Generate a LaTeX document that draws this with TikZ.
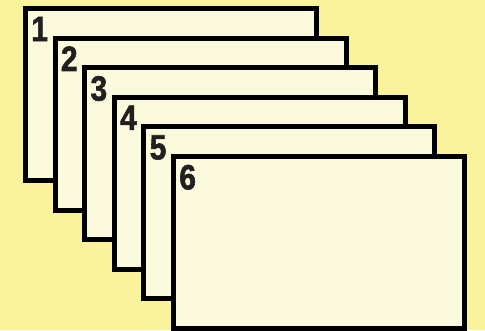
\documentclass[tikz,border=0pt]{standalone}
\usepackage{fontspec}
\setmainfont{Liberation Sans}
\newfontfamily\numfont[FakeBold=1.6, FakeStretch=0.85]{Liberation Sans Bold}
\usepackage{xcolor}
\usetikzlibrary{positioning}
\definecolor{bgyellow}{RGB}{251,243,155}
\definecolor{cardfill}{RGB}{252,250,220}
\definecolor{inkdark}{RGB}{35,31,32}

\begin{document}
\begin{tikzpicture}[
    cardbox/.style={rectangle, draw=black, fill=cardfill, line width=0.1cm, minimum width=5.82cm, minimum height=3.44cm, inner sep=0pt, outer sep=0pt},
    cardnum/.style={anchor=north west, inner sep=0pt, text=inkdark, font=\fontsize{20}{20}\numfont},
  ]
    \fill[bgyellow] (0,0) rectangle (9.7,-6.6);
    \useasboundingbox (0,0) rectangle (9.7,-6.6);
    \foreach \i in {1,...,6} {
      \node[cardbox] (card\i) at ({3.42+0.592*(\i-1)}, {-1.89-0.592*(\i-1)}) {};
      \node[cardnum] (num\i) at ([xshift=0.11cm, yshift=-0.16cm]card\i.north west) {\i};
    }
  \end{tikzpicture}
\end{document}
